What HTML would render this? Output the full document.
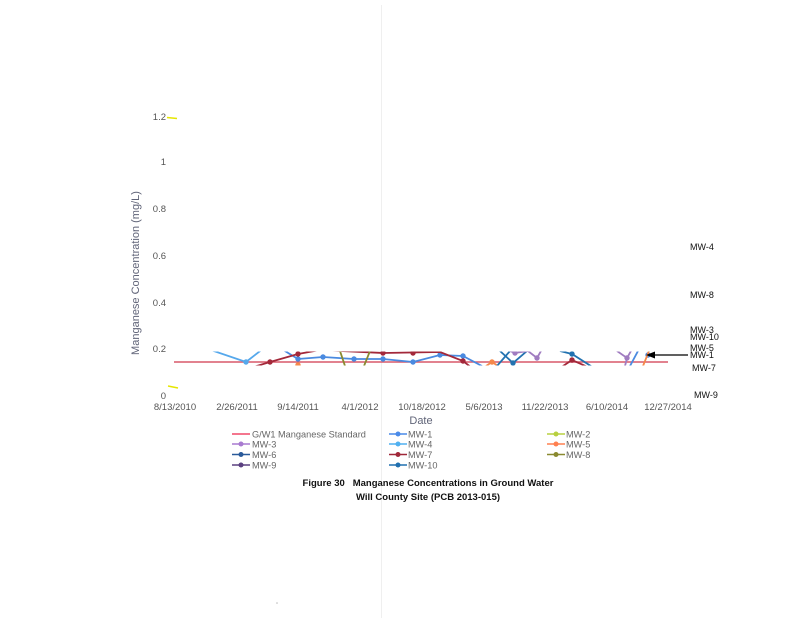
<!DOCTYPE html>
<html><head><meta charset="utf-8"><style>
html,body{margin:0;padding:0;background:#fff;}
svg{display:block;font-family:"Liberation Sans",Arial,sans-serif;}
</style></head><body>
<svg width="800" height="618" viewBox="0 0 800 618" xmlns="http://www.w3.org/2000/svg">
<rect width="800" height="618" fill="#fff"/>
<line x1="381.5" y1="5" x2="381.5" y2="618" stroke="#efefef" stroke-width="1"/>
<!-- y tick labels -->
<g font-size="9.5" fill="#555" text-anchor="end">
<text x="166" y="120">1.2</text>
<text x="166" y="165">1</text>
<text x="166" y="212">0.8</text>
<text x="166" y="259">0.6</text>
<text x="166" y="306">0.4</text>
<text x="166" y="352">0.2</text>
<text x="166" y="399">0</text>
</g>
<!-- yellow marks -->
<line x1="167" y1="117.5" x2="177" y2="118.5" stroke="#e6e600" stroke-width="1.5"/>
<line x1="168" y1="386" x2="178" y2="388" stroke="#e6e600" stroke-width="1.5"/>
<!-- y axis title -->
<text transform="translate(139,273) rotate(-90)" font-size="11" fill="#606478" text-anchor="middle">Manganese Concentration (mg/L)</text>
<!-- x tick labels -->
<g font-size="9.5" fill="#555" text-anchor="middle">
<text x="175" y="410">8/13/2010</text>
<text x="237" y="410">2/26/2011</text>
<text x="298" y="410">9/14/2011</text>
<text x="360" y="410">4/1/2012</text>
<text x="422" y="410">10/18/2012</text>
<text x="484" y="410">5/6/2013</text>
<text x="545" y="410">11/22/2013</text>
<text x="607" y="410">6/10/2014</text>
<text x="668" y="410">12/27/2014</text>
</g>
<text x="421" y="424" font-size="11" fill="#606478" text-anchor="middle">Date</text>
<!-- standard line -->
<line x1="174" y1="362" x2="668" y2="362" stroke="#d8586a" stroke-width="1.6"/>
<defs><clipPath id="c"><rect x="174" y="351.5" width="500" height="14"/></clipPath></defs>
<g clip-path="url(#c)" stroke-width="1.8" fill="none">
<!-- MW-4 light blue -->
<polyline points="205,348 246,362 264,348" stroke="#55a8ec"/>
<circle cx="246" cy="362" r="2.7" fill="#55a8ec" stroke="none"/>
<!-- MW-1 blue -->
<polyline points="280,348 298,359 323,357 354,359 383,359 413,362 440,355 463,356 482,366" stroke="#4a8ae0"/>
<g fill="#4a8ae0" stroke="none">
<circle cx="298" cy="359" r="2.7"/><circle cx="323" cy="357" r="2.7"/><circle cx="354" cy="359" r="2.7"/><circle cx="383" cy="359" r="2.7"/><circle cx="413" cy="362" r="2.7"/><circle cx="440" cy="355" r="2.7"/><circle cx="463" cy="356" r="2.7"/><circle cx="648" cy="355" r="2.7"/>
</g>
<line x1="630" y1="366" x2="638" y2="351" stroke="#4a8ae0"/>
<!-- MW-7 dark red -->
<polyline points="250,368 270,362 298,354 320,350 383,353 440,352 463,361 472,368" stroke="#a3283a"/>
<polyline points="560,368 572,360 590,368" stroke="#a3283a"/>
<g fill="#a3283a" stroke="none">
<circle cx="270" cy="362" r="2.7"/><circle cx="298" cy="354" r="2.7"/><circle cx="383" cy="353" r="2.7"/><circle cx="413" cy="353" r="2.7"/><circle cx="463" cy="361" r="2.7"/><circle cx="572" cy="360" r="2.7"/>
</g>
<!-- MW-8 olive -->
<line x1="340" y1="351" x2="345" y2="366" stroke="#8a8a30"/>
<line x1="370" y1="351" x2="364" y2="366" stroke="#8a8a30"/>
<!-- MW-5 orange -->
<circle cx="298" cy="365" r="2.7" fill="#f5884a" stroke="none"/>
<polyline points="486,366 492,362 498,366" stroke="#f5884a"/>
<circle cx="492" cy="362" r="2.7" fill="#f5884a" stroke="none"/>
<line x1="643" y1="366" x2="649" y2="351" stroke="#f5884a"/>
<!-- MW-10 steel blue -->
<polyline points="500,351 513,363 527,351" stroke="#2272b0"/>
<line x1="497" y1="366" x2="510" y2="351" stroke="#2272b0"/>
<polyline points="560,351 572,354 594,368" stroke="#2272b0"/>
<circle cx="513" cy="363" r="2.7" fill="#2272b0" stroke="none"/>
<circle cx="572" cy="354" r="2.7" fill="#2272b0" stroke="none"/>
<!-- MW-3 purple -->
<polyline points="510,351 515,353 528,351 537,358 541,351" stroke="#a07cc0"/>
<polyline points="617,351 627,358 631,351" stroke="#a07cc0"/>
<line x1="627" y1="358" x2="625" y2="366" stroke="#a07cc0"/>
<circle cx="515" cy="353" r="2.7" fill="#a07cc0" stroke="none"/>
<circle cx="537" cy="358" r="2.7" fill="#a07cc0" stroke="none"/>
<circle cx="627" cy="358" r="2.7" fill="#a07cc0" stroke="none"/>
</g>
<!-- arrow -->
<line x1="688" y1="355" x2="652" y2="355" stroke="#000" stroke-width="1.2"/>
<polygon points="646,355 655,351.5 655,358.5" fill="#000"/>
<!-- right labels -->
<g font-size="9" fill="#111">
<text x="690" y="250">MW-4</text>
<text x="690" y="298">MW-8</text>
<text x="690" y="333">MW-3</text>
<text x="690" y="340">MW-10</text>
<text x="690" y="351">MW-5</text>
<text x="690" y="358">MW-1</text>
<text x="692" y="371">MW-7</text>
<text x="694" y="398">MW-9</text>
</g>
<!-- legend -->
<g font-size="9.2" fill="#666">
<line x1="232" y1="434" x2="250" y2="434" stroke="#f04868" stroke-width="1.5"/>
<text x="252" y="437.5">G/W1 Manganese Standard</text>
<line x1="232" y1="444" x2="250" y2="444" stroke="#a87ad0" stroke-width="1.5"/><circle cx="241" cy="444" r="2.5" fill="#a87ad0"/>
<text x="252" y="447.5">MW-3</text>
<line x1="232" y1="454.5" x2="250" y2="454.5" stroke="#2a5a9a" stroke-width="1.5"/><circle cx="241" cy="454.5" r="2.5" fill="#2a5a9a"/>
<text x="252" y="458">MW-6</text>
<line x1="232" y1="465" x2="250" y2="465" stroke="#5b4080" stroke-width="1.5"/><circle cx="241" cy="465" r="2.5" fill="#5b4080"/>
<text x="252" y="468.5">MW-9</text>

<line x1="389" y1="434" x2="407" y2="434" stroke="#4a8ae8" stroke-width="1.5"/><circle cx="398" cy="434" r="2.5" fill="#4a8ae8"/>
<text x="408" y="437.5">MW-1</text>
<line x1="389" y1="444" x2="407" y2="444" stroke="#50b0f0" stroke-width="1.5"/><circle cx="398" cy="444" r="2.5" fill="#50b0f0"/>
<text x="408" y="447.5">MW-4</text>
<line x1="389" y1="454.5" x2="407" y2="454.5" stroke="#a0283a" stroke-width="1.5"/><circle cx="398" cy="454.5" r="2.5" fill="#a0283a"/>
<text x="408" y="458">MW-7</text>
<line x1="389" y1="465" x2="407" y2="465" stroke="#2070b0" stroke-width="1.5"/><circle cx="398" cy="465" r="2.5" fill="#2070b0"/>
<text x="408" y="468.5">MW-10</text>

<line x1="547" y1="434" x2="565" y2="434" stroke="#b8d040" stroke-width="1.5"/><circle cx="556" cy="434" r="2.5" fill="#b8d040"/>
<text x="566" y="437.5">MW-2</text>
<line x1="547" y1="444" x2="565" y2="444" stroke="#ff8050" stroke-width="1.5"/><circle cx="556" cy="444" r="2.5" fill="#ff8050"/>
<text x="566" y="447.5">MW-5</text>
<line x1="547" y1="454.5" x2="565" y2="454.5" stroke="#8a8a30" stroke-width="1.5"/><circle cx="556" cy="454.5" r="2.5" fill="#8a8a30"/>
<text x="566" y="458">MW-8</text>
</g>
<!-- caption -->
<g font-size="9.5" font-weight="bold" fill="#111" text-anchor="middle">
<text x="428" y="486" xml:space="preserve">Figure 30   Manganese Concentrations in Ground Water</text>
<text x="428" y="500">Will County Site (PCB 2013-015)</text>
</g>
<circle cx="277" cy="603" r="0.8" fill="#bbb"/>
</svg>
</body></html>
